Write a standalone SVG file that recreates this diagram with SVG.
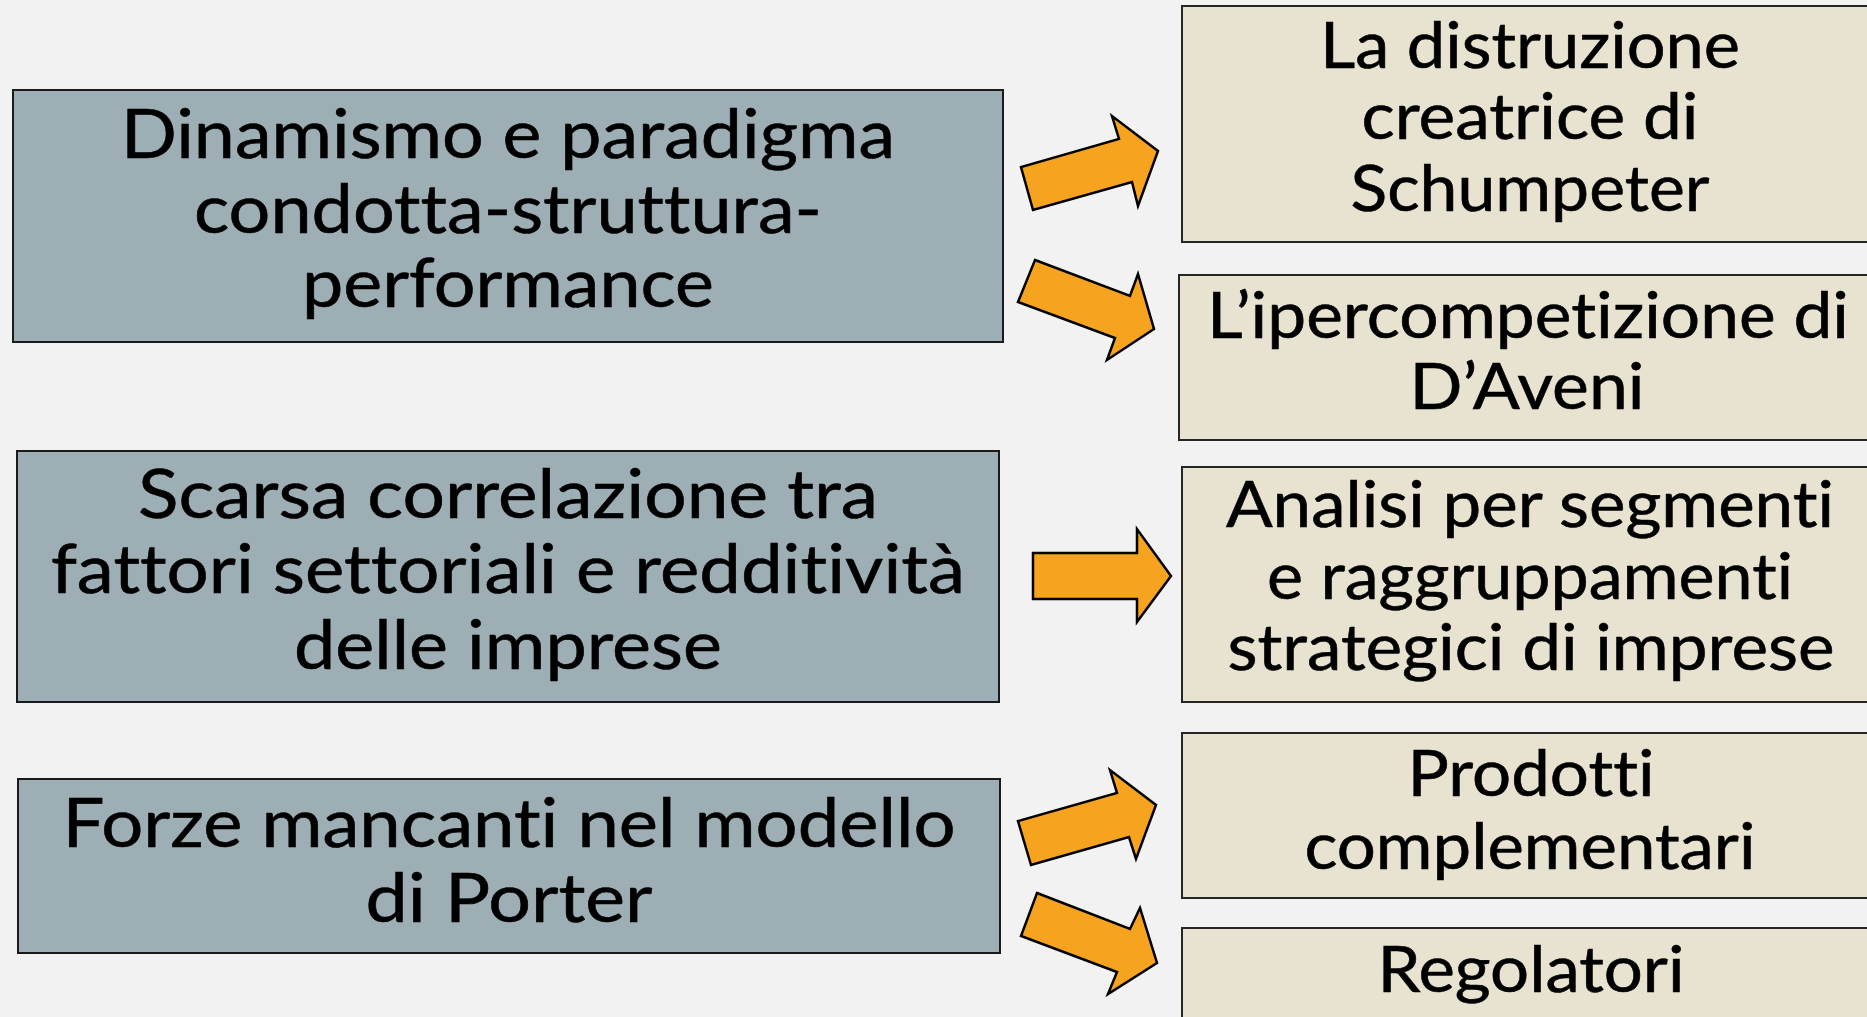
<svg xmlns="http://www.w3.org/2000/svg" width="1867" height="1017" viewBox="0 0 1867 1017">
<style>
.bg{fill:#F2F2F2}
.lbox{fill:#9DAFB5;stroke:#1a1a1a;stroke-width:2}
.rbox{fill:#E8E3D1;stroke:#262626;stroke-width:2}
.arr{fill:#F6A31F;stroke:#000;stroke-width:2.5;stroke-linejoin:miter}
text{font-family:Lato,"Open Sans","Liberation Sans",sans-serif;fill:#000;text-anchor:middle;font-variant-ligatures:none;font-feature-settings:"liga" 0,"clig" 0;stroke:#000;stroke-width:0.6}
.lt{font-size:68px}
.rt{font-size:64px}
</style>
<rect class="bg" x="0" y="0" width="1867" height="1017"/>
<g id="n1">
<rect class="lbox" x="13" y="90" width="990" height="252"/>
<text class="lt" x="508" y="158" textLength="774" lengthAdjust="spacingAndGlyphs">Dinamismo e paradigma</text>
<text class="lt" x="508" y="233" textLength="628" lengthAdjust="spacingAndGlyphs">condotta-struttura-</text>
<text class="lt" x="508" y="307" textLength="412" lengthAdjust="spacingAndGlyphs">performance</text>
</g>
<g id="n2">
<rect class="lbox" x="17" y="451" width="982" height="251"/>
<text class="lt" x="508" y="518" textLength="740" lengthAdjust="spacingAndGlyphs">Scarsa correlazione tra</text>
<text class="lt" x="508" y="593" textLength="914" lengthAdjust="spacingAndGlyphs">fattori settoriali e redditività</text>
<text class="lt" x="508" y="669" textLength="428" lengthAdjust="spacingAndGlyphs">delle imprese</text>
</g>
<g id="n3">
<rect class="lbox" x="18" y="779" width="982" height="174"/>
<text class="lt" x="509" y="847" textLength="893" lengthAdjust="spacingAndGlyphs">Forze mancanti nel modello</text>
<text class="lt" x="509" y="922" textLength="287" lengthAdjust="spacingAndGlyphs">di Porter</text>
</g>
<g id="n4">
<rect class="rbox" x="1182" y="6" width="720" height="236"/>
<text class="rt" x="1530" y="68" textLength="420" lengthAdjust="spacingAndGlyphs">La distruzione</text>
<text class="rt" x="1530" y="139" textLength="337" lengthAdjust="spacingAndGlyphs">creatrice di</text>
<text class="rt" x="1530" y="211" textLength="359" lengthAdjust="spacingAndGlyphs">Schumpeter</text>
</g>
<g id="n5">
<rect class="rbox" x="1179" y="275" width="720" height="165"/>
<text class="rt" x="1528" y="338" textLength="642" lengthAdjust="spacingAndGlyphs">L’ipercompetizione di</text>
<text class="rt" x="1527" y="409" textLength="235" lengthAdjust="spacingAndGlyphs">D’Aveni</text>
</g>
<g id="n6">
<rect class="rbox" x="1182" y="467" width="720" height="235"/>
<text class="rt" x="1530" y="527" textLength="608" lengthAdjust="spacingAndGlyphs">Analisi per segmenti</text>
<text class="rt" x="1530" y="599" textLength="526" lengthAdjust="spacingAndGlyphs">e raggruppamenti</text>
<text class="rt" x="1531" y="670" textLength="607" lengthAdjust="spacingAndGlyphs">strategici di imprese</text>
</g>
<g id="n7">
<rect class="rbox" x="1182" y="733" width="720" height="165"/>
<text class="rt" x="1531" y="796" textLength="247" lengthAdjust="spacingAndGlyphs">Prodotti</text>
<text class="rt" x="1530" y="869" textLength="451" lengthAdjust="spacingAndGlyphs">complementari</text>
</g>
<g id="n8">
<rect class="rbox" x="1182" y="928" width="720" height="120"/>
<text class="rt" x="1531" y="992" textLength="307" lengthAdjust="spacingAndGlyphs">Regolatori</text>
</g>
<g id="connectors">
<polygon class="arr" points="1033,210 1021,167 1119,139 1112,116 1158,151 1138,206 1132,182"/>
<polygon class="arr" points="1035,260 1130,296 1138,274 1154,329 1107,360 1115,338 1018,302"/>
<polygon class="arr" points="1033,553 1137,553 1137,529 1171,576 1137,622 1137,599 1033,599"/>
<polygon class="arr" points="1031,865 1018,821 1117,793 1110,770 1156,805 1136,859 1129,837"/>
<polygon class="arr" points="1037,893 1130,929 1140,908 1157,963 1108,994 1117,972 1021,936"/>
</g>
</svg>
